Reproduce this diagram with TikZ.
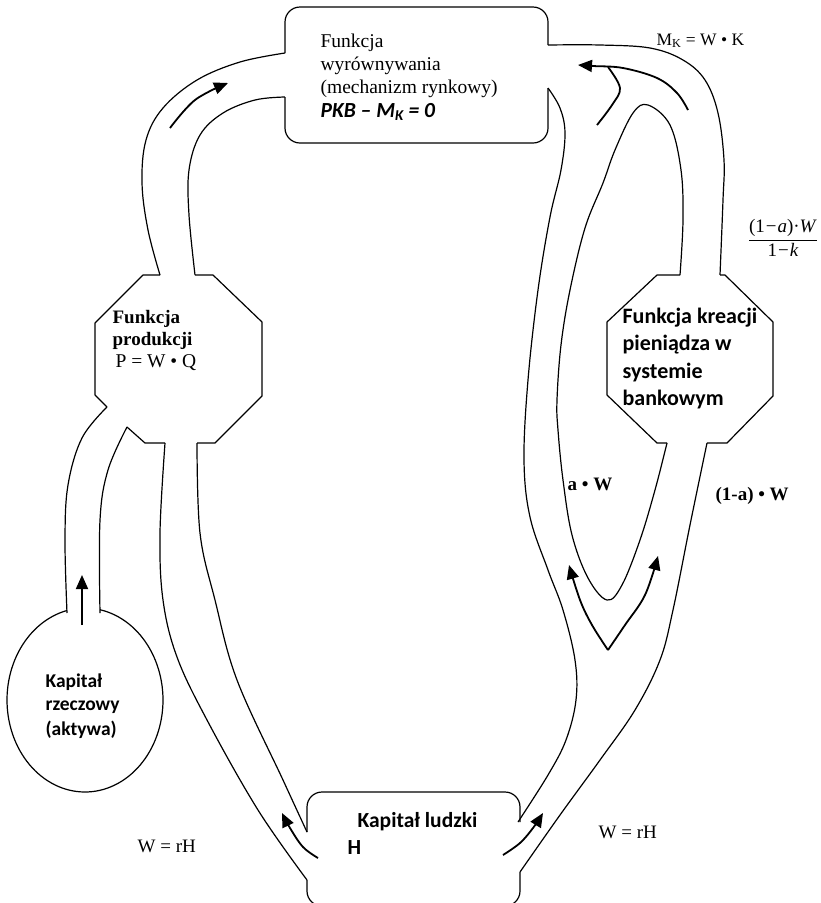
\documentclass[tikz,border=0pt]{standalone}
\usepackage{fontspec}
\setmainfont{Liberation Serif}
\newfontfamily\carlito{Carlito}
\usetikzlibrary{arrows.meta}
\begin{document}
\begin{tikzpicture}[x=1pt,y=-1pt,line width=1.2pt,line join=round,
  flow/.style={line width=1.8pt,-{Triangle[length=14pt,width=12pt]}},
  flowline/.style={line width=1.8pt},
  lbl/.style={inner sep=0pt,anchor=base west},
  tms/.style={font=\fontsize{19.5}{23}\selectfont},
  tmsb/.style={font=\fontsize{19}{22}\selectfont\bfseries},
  small/.style={font=\fontsize{19}{22}\selectfont},
  cal/.style={font=\fontsize{21.5}{25}\selectfont\carlito\bfseries},
  calk/.style={font=\fontsize{22}{26}\selectfont\carlito\bfseries},
  calc/.style={font=\fontsize{19.5}{23}\selectfont\carlito\bfseries}]
\useasboundingbox (0,0) rectangle (820,903);

% top box
\draw[rounded corners=15pt] (285,53) -- (285,7) -- (548,7) -- (548,45);
\draw[rounded corners=15pt] (285,97) -- (285,143) -- (548,143) -- (548,88);

% left pipe top
\draw plot[smooth,tension=0.6] coordinates {(285,53) (240,62) (197,80) (163,108) (146,140) (142,183) (148,230) (160,275)};
\draw plot[smooth,tension=0.6] coordinates {(285,97) (255,100) (223,113) (200,135) (189,170) (189,215) (195,275)};
\draw[flow] plot[smooth,tension=0.6] coordinates {(170,128) (195,100) (228,83)};

% left octagon
\draw (160,275) -- (143,275) -- (95,323) -- (95,395) -- (107,407);
\draw (127,427) -- (145,443) -- (165,443);
\draw (197,443) -- (215,443) -- (262,396) -- (262,322) -- (213,275) -- (195,275);

% circle pipe
\draw plot[smooth,tension=0.6] coordinates {(107,407) (82,438) (68,485) (65,540) (67,613)};
\draw plot[smooth,tension=0.6] coordinates {(127,427) (108,470) (100,520) (100,613)};
\draw plot[domain=-78.9:256.7,samples=120] ({85+78*cos(\x)},{700+92*sin(\x)});
\draw[flow] (82,625) -- (82,575);

% left pipe bottom
\draw plot[smooth,tension=0.6] coordinates {(165,443) (160,533) (163,600) (177,657) (207,720) (258,810) (307,880)};
\draw plot[smooth,tension=0.6] coordinates {(197,443) (200,533) (215,600) (237,680) (283,780) (307,832)};
\draw[flow] plot[smooth,tension=0.6] coordinates {(318,858) (303,847) (290,828) (282,813)};

% bottom box
\draw[rounded corners=15pt] (307,832) -- (307,792) -- (520,792) -- (520,822);
\draw[rounded corners=15pt] (307,880) -- (307,906) -- (520,906) -- (520,872);

% right side long lines
\draw plot[smooth,tension=0.6] coordinates {(548,88) (560,108) (565,133) (561,170) (550,217) (538,290) (528,380) (524,460) (530,517) (548,570) (563,610) (575,660) (576,700) (566,740) (548,775) (518,822)};
\draw plot[smooth,tension=0.6] coordinates {(520,872) (560,815) (600,760) (635,710) (660,660) (673,610) (690,525) (707,443)};
% island
\draw plot[smooth,tension=0.6] coordinates {(680,275) (683,220) (681,170) (670,125) (648,105) (633,113) (615,150) (603,183) (585,228) (570,290) (561,345) (557,400) (558,430) (563,480) (572,535) (588,578) (607,600) (622,585) (640,540) (655,490) (667,443)};

% right octagon
\draw (680,275) -- (657,275) -- (607,322) -- (607,395) -- (657,443) -- (667,443);
\draw (707,443) -- (727,443) -- (773,396) -- (773,322) -- (725,275) -- (720,275);

% right pipe top outer
\draw plot[smooth,tension=0.6] coordinates {(720,275) (723,200) (724,160) (718,113) (705,80) (683,60) (650,48) (600,45) (548,45)};

% arrows right
\draw[flow] plot[smooth,tension=0.6] coordinates {(688,110) (677,93) (657,78) (623,68) (593,66) (578,65)};
\draw[flowline] plot[smooth,tension=0.6] coordinates {(597,125) (612,105) (620,88) (608,67)};
\draw[flow] plot[smooth,tension=0.6] coordinates {(608,650) (592,625) (580,600) (569,565)};
\draw[flow] plot[smooth,tension=0.6] coordinates {(608,650) (625,625) (645,595) (658,556)};
\draw[flow] plot[smooth,tension=0.6] coordinates {(503,855) (520,843) (533,828) (543,813)};

% texts top box
\node[lbl,tms] (t1) at (320,47) {Funkcja};
\node[lbl,tms] (t2) at (320,70) {wyrównywania};
\node[lbl,tms] (t3) at (320,93) {(mechanizm rynkowy)};
\node[lbl,font=\fontsize{21.5}{25}\selectfont\carlito\bfseries\itshape] (t4) at (320,117) {PKB – M\textsubscript{K} = 0};

% labels
\node[lbl,font=\fontsize{17.5}{20}\selectfont] (mk) at (656,45) {M\textsubscript{K} = W • K};
\node[inner sep=0pt,font=\fontsize{19}{22}\selectfont] (fr) at (783,238) {$\displaystyle\frac{\mbox{(1\kern1pt−\kern1pt\textit{a})·\textit{W}}}{\mbox{1\kern1pt−\kern1pt\textit{k}}}$};
\node[lbl,tmsb] (aw) at (567,490) {a • W};
\node[lbl,tmsb] (maw) at (715,500) {(1-a) • W};
\node[lbl,small] (w1) at (137,852) {W = rH};
\node[lbl,small] (w2) at (598,838) {W = rH};

% left octagon text
\node[lbl,tmsb] (p1) at (112,323) {Funkcja};
\node[lbl,tmsb] (p2) at (112,345) {produkcji};
\node[lbl,tms] (p3) at (115,367) {P = W • Q};

% right octagon text
\node[lbl,calk] (k1) at (622,323) {Funkcja kreacji};
\node[lbl,calk] (k2) at (622,350) {pieniądza w};
\node[lbl,calk] (k3) at (622,378) {systemie};
\node[lbl,calk] (k4) at (622,405) {bankowym};

% circle text
\node[lbl,calc] (c1) at (45,687) {Kapitał};
\node[lbl,calc] (c2) at (45,710) {rzeczowy};
\node[lbl,calc] (c3) at (45,735) {(aktywa)};

% bottom box text
\node[lbl,cal] (h1) at (357,827) {Kapitał ludzki};
\node[lbl,cal] (h2) at (347,854) {H};
\end{tikzpicture}
\end{document}
